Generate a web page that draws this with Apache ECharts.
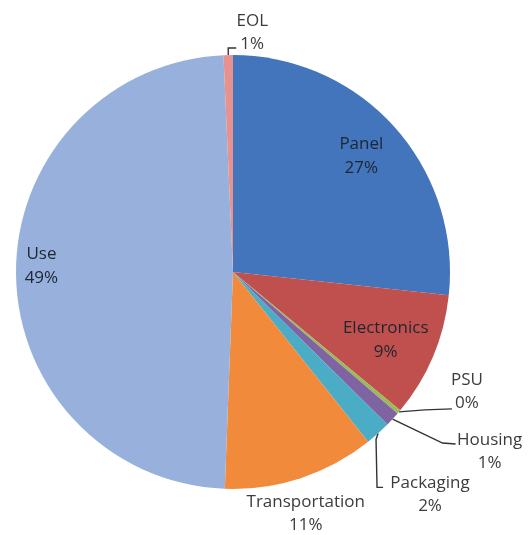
<!DOCTYPE html>
<html style="height: 100%">
<head>
<meta charset="utf-8">
<script type="text/javascript" src="https://cdn.jsdelivr.net/npm/echarts@6/dist/echarts.min.js"></script>
</head>
<body style="height: 100%; margin: 0; background: #fff">
<div id="container" style="width: 532px; height: 535px"></div>
<script type="text/javascript">
// slice order, clockwise from 12 o'clock
var NAMES = ['Panel', 'Electronics', 'PSU', 'Housing', 'Packaging', 'Transportation', 'Use', 'EOL'];
var VALUES = [26.7, 9.3, 0.3, 1.1, 1.9, 11.3, 48.7, 0.7];
var PCT = ['27%', '9%', '0%', '1%', '2%', '11%', '49%', '1%'];
var COLORS = ['#4275bb', '#c0504d', '#9bbb59', '#8064a2', '#4bacc6', '#f28a3b', '#97b1dc', '#e8928f'];

var INSIDE = ['Panel', 'Electronics', 'Use'];

// where outside labels sit, relative to the slice edge point
// lab = label centre, line = extra leader points after the edge point
var OUT_POS = {
    'EOL':            { lab: [24, -22], line: [[0, -7], [8, -7]] },
    'PSU':            { lab: [68, -20], line: [[26, -2], [53, -3]] },
    'Housing':        { lab: [97, 33],  line: [[50, 24], [63, 25]] },
    'Packaging':      { lab: [52, 61],  line: [[-2, 6], [-1, 54], [5, 54]] },
    'Transportation': { lab: [5, 35],   line: [] }
};
// small nudges for the inside labels
var IN_SHIFT = { 'Panel': [-3, 2], 'Electronics': [-10, 0], 'Use': [-15, -6] };

var FONT = "'Open Sans', sans-serif";
var R = 217;
var CENTER = [233, 272];

function fmt(p) { return p.name + '\n' + PCT[p.dataIndex]; }

var mainData = [], innerData = [];
for (var i = 0; i < NAMES.length; i++) {
    var inside = INSIDE.indexOf(NAMES[i]) >= 0;
    mainData.push({
        name: NAMES[i], value: VALUES[i],
        itemStyle: { color: COLORS[i] },
        label: { show: !inside },
        labelLine: { show: !inside }
    });
    innerData.push({ name: NAMES[i], value: VALUES[i], label: { show: inside } });
}

var option = {
    backgroundColor: '#ffffff',
    animation: false,
    series: [{
        type: 'pie',
        center: CENTER,
        radius: R,
        startAngle: 90,
        clockwise: true,
        silent: true,
        avoidLabelOverlap: false,
        data: mainData,
        label: {
            position: 'outside',
            formatter: fmt,
            color: '#3c3c3c',
            fontFamily: FONT,
            fontSize: 17,
            lineHeight: 23,
            align: 'center'
        },
        labelLine: {
            length: 10,
            length2: 20,
            lineStyle: { color: '#333', width: 1.4 }
        },
        labelLayout: function (p) {
            var pos = OUT_POS[NAMES[p.dataIndex]];
            if (!pos || !p.labelLinePoints) return {};
            var p0 = p.labelLinePoints[0];
            var pts = [[p0[0], p0[1]]];
            for (var k = 0; k < pos.line.length; k++) {
                pts.push([p0[0] + pos.line[k][0], p0[1] + pos.line[k][1]]);
            }
            if (pts.length < 2) pts.push([p0[0], p0[1]]);
            return {
                x: p0[0] + pos.lab[0],
                y: p0[1] + pos.lab[1],
                align: 'center',
                verticalAlign: 'middle',
                labelLinePoints: pts
            };
        }
    }, {
        type: 'pie',
        center: CENTER,
        radius: [R * 0.6, R],
        startAngle: 90,
        silent: true,
        avoidLabelOverlap: false,
        data: innerData,
        itemStyle: { color: 'rgba(0,0,0,0)' },
        label: {
            position: 'inside',
            formatter: fmt,
            color: '#1e2633',
            fontFamily: FONT,
            fontSize: 17,
            lineHeight: 24
        },
        labelLine: { show: false },
        labelLayout: function (p) {
            var s = IN_SHIFT[NAMES[p.dataIndex]];
            return s ? { dx: s[0], dy: s[1] } : {};
        }
    }]
};

var myChart = echarts.init(document.getElementById('container'));
myChart.setOption(option);
</script>
</body>
</html>
